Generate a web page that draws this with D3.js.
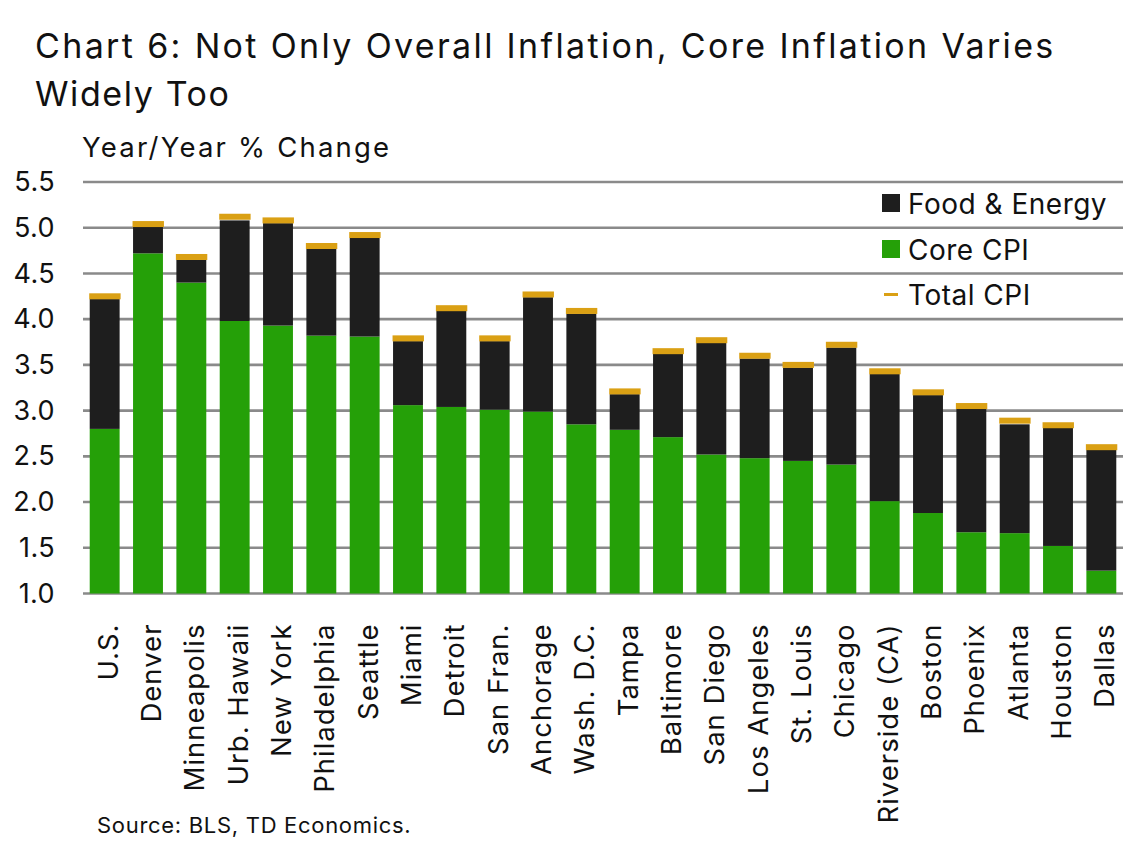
<!DOCTYPE html>
<html>
<head>
<meta charset="utf-8">
<script src="https://cdn.jsdelivr.net/npm/d3@7"></script>
<style>
  body { margin: 0; background: #fff; }
  svg { font-family: Inter, "Open Sans", sans-serif; }
</style>
</head>
<body>
<svg id="chart"></svg>
<script>
// values
const cities = ["U.S.", "Denver", "Minneapolis", "Urb. Hawaii", "New York", "Philadelphia",
  "Seattle", "Miami", "Detroit", "San Fran.", "Anchorage", "Wash. D.C.", "Tampa",
  "Baltimore", "San Diego", "Los Angeles", "St. Louis", "Chicago", "Riverside (CA)",
  "Boston", "Phoenix", "Atlanta", "Houston", "Dallas"];
const coreCPI = [2.80, 4.72, 4.40, 3.98, 3.93, 3.82, 3.81, 3.06, 3.04, 3.01, 2.99, 2.85, 2.79,
  2.71, 2.52, 2.48, 2.45, 2.41, 2.01, 1.88, 1.67, 1.66, 1.52, 1.25];
const foodEnergy = [1.42, 0.29, 0.25, 1.10, 1.12, 0.95, 1.08, 0.70, 1.05, 0.75, 1.25, 1.21, 0.39,
  0.91, 1.22, 1.09, 1.02, 1.28, 1.39, 1.29, 1.35, 1.19, 1.29, 1.32];
const totalCPI = [4.25, 5.04, 4.68, 5.12, 5.08, 4.80, 4.92, 3.79, 4.12, 3.79, 4.27, 4.09, 3.21,
  3.65, 3.77, 3.60, 3.50, 3.72, 3.43, 3.20, 3.05, 2.89, 2.84, 2.60];
const yTicks = [1.0, 1.5, 2.0, 2.5, 3.0, 3.5, 4.0, 4.5, 5.0, 5.5];

const WIDTH = 1141, HEIGHT = 848;
const colors = { core: "#25a008", fe: "#1e1e1e", total: "#daa014", grid: "#8a8a8a" };
const FONT = "Inter, 'Open Sans', sans-serif";

const svg = d3.select("#chart")
  .attr("width", WIDTH)
  .attr("height", HEIGHT);

const x = d3.scaleBand()
  .domain(cities)
  .range([83, 1123])
  .paddingInner(0.31)
  .paddingOuter(0.155);

const y = d3.scaleLinear()
  .domain([1, 5.5])
  .range([593.5, 182]);

// title
svg.append("text")
  .attr("x", 35).attr("y", 58)
  .attr("font-size", 34).attr("letter-spacing", 2.35).attr("fill", "#111")
  .text("Chart 6: Not Only Overall Inflation, Core Inflation Varies");
svg.append("text")
  .attr("x", 35).attr("y", 106)
  .attr("font-size", 34).attr("letter-spacing", 1.6).attr("fill", "#111")
  .text("Widely Too");

svg.append("text")
  .attr("x", 82).attr("y", 157)
  .attr("font-size", 27.5).attr("letter-spacing", 2.2).attr("fill", "#111")
  .text("Year/Year % Change");

// gridlines
svg.append("g")
  .selectAll("line")
  .data(yTicks)
  .join("line")
  .attr("x1", 83).attr("x2", 1123)
  .attr("y1", d => y(d)).attr("y2", d => y(d))
  .attr("stroke", colors.grid)
  .attr("stroke-width", 2.6);

// y axis labels
const yAxis = svg.append("g")
  .attr("transform", "translate(55,0)")
  .call(d3.axisLeft(y).tickValues(yTicks).tickFormat(d3.format(".1f")).tickSize(0).tickPadding(0));
yAxis.select(".domain").remove();
yAxis.selectAll("text")
  .attr("font-size", 27)
  .attr("letter-spacing", 0.4)
  .attr("font-family", FONT)
  .attr("fill", "#111");

// stacked bars
const rows = cities.map((c, i) => ({ city: c, core: coreCPI[i], fe: foodEnergy[i], total: totalCPI[i] }));

svg.append("g")
  .selectAll("rect")
  .data(rows)
  .join("rect")
  .attr("x", d => x(d.city))
  .attr("width", x.bandwidth())
  .attr("y", d => y(d.core))
  .attr("height", d => y(1) - y(d.core))
  .attr("fill", colors.core);

svg.append("g")
  .selectAll("rect")
  .data(rows)
  .join("rect")
  .attr("x", d => x(d.city))
  .attr("width", x.bandwidth())
  .attr("y", d => y(d.core + d.fe))
  .attr("height", d => y(d.core) - y(d.core + d.fe))
  .attr("fill", colors.fe);

// total CPI markers
svg.append("g")
  .selectAll("rect")
  .data(rows)
  .join("rect")
  .attr("x", d => x(d.city) - 0.5)
  .attr("width", x.bandwidth() + 1.5)
  .attr("y", d => y(d.total) - 3)
  .attr("height", 6)
  .attr("fill", colors.total);

// x labels
const xAxis = svg.append("g")
  .attr("transform", `translate(0,${y(1)})`)
  .call(d3.axisBottom(x).tickSize(0).tickPadding(0));
xAxis.select(".domain").remove();
xAxis.selectAll("text")
  .attr("font-size", 27.5)
  .attr("letter-spacing", 1.0)
  .attr("font-family", FONT)
  .attr("fill", "#111")
  .attr("text-anchor", "end")
  .attr("dy", null)
  .attr("transform", "translate(13,30) rotate(-90)");

// legend
const legend = svg.append("g").attr("transform", "translate(882,0)");
legend.append("rect").attr("x", 0).attr("y", 194).attr("width", 18).attr("height", 18).attr("fill", colors.fe);
legend.append("text").attr("x", 26).attr("y", 214).attr("font-size", 28).attr("letter-spacing", 0.5).attr("fill", "#111").text("Food & Energy");
legend.append("rect").attr("x", 0).attr("y", 240).attr("width", 18).attr("height", 18).attr("fill", colors.core);
legend.append("text").attr("x", 26).attr("y", 260).attr("font-size", 28).attr("letter-spacing", 0.5).attr("fill", "#111").text("Core CPI");
legend.append("rect").attr("x", 2).attr("y", 293).attr("width", 14).attr("height", 3).attr("fill", colors.total);
legend.append("text").attr("x", 26).attr("y", 305).attr("font-size", 28).attr("letter-spacing", 0.5).attr("fill", "#111").text("Total CPI");

// source
svg.append("text")
  .attr("x", 97).attr("y", 833)
  .attr("font-size", 22).attr("letter-spacing", 0.7).attr("fill", "#111")
  .text("Source: BLS, TD Economics.");
</script>
</body>
</html>
